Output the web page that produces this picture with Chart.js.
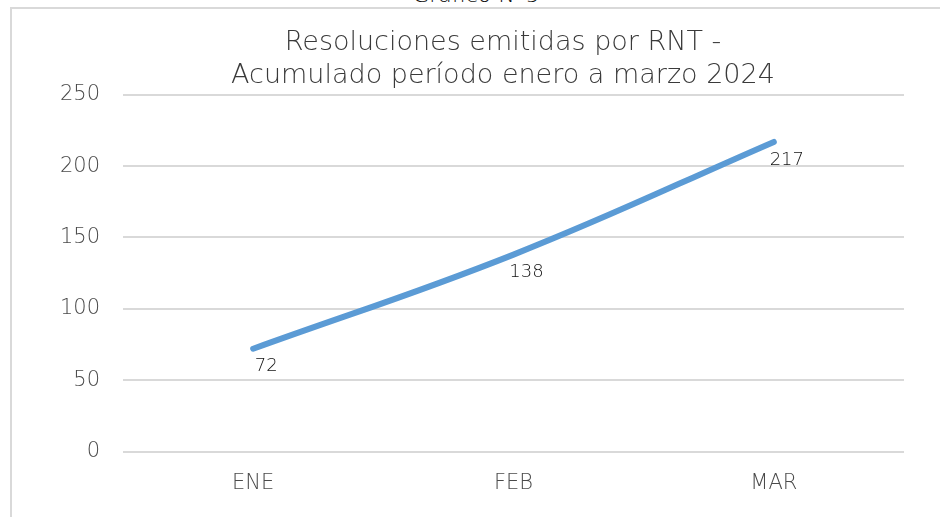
<!DOCTYPE html>
<html>
<head>
<meta charset="utf-8">
<script src="https://cdn.jsdelivr.net/npm/chart.js@4"></script>
<style>
  html, body { margin: 0; padding: 0; background: #fff; width: 940px; height: 517px; overflow: hidden; }
  .caption { position: absolute; left: 0; width: 952px; top: -18px; text-align: center;
             font-family: "DejaVu Sans", sans-serif; font-size: 22px; font-weight: 300; color: #111; }
  .frame { position: absolute; left: 10px; top: 7px; width: 960px; height: 540px;
           border-left: 2px solid #d9d9d9; border-top: 2px solid #d9d9d9; }
  .wrap { position: absolute; left: 20px; top: 0; width: 966px; height: 517px; }
</style>
</head>
<body>
<div class="caption">Gráfico N°5</div>
<div class="frame"></div>
<div class="wrap"><canvas id="linegraph"></canvas></div>
<script>
var months = ['ENE', 'FEB', 'MAR'];
var resolutions = [72, 138, 217];
var yTicks = [0, 50, 100, 150, 200, 250];
var chartTitle = ['Resoluciones emitidas por RNT -', 'Acumulado período enero a marzo 2024'];

var fontFamily = '"DejaVu Sans", sans-serif';

// labels under each point, placed from the line's own elements
var valueLabels = {
    id: 'valueLabels',
    afterDatasetsDraw: function (chart) {
        var ctx = chart.ctx;
        var meta = chart.getDatasetMeta(0);
        ctx.save();
        ctx.font = '300 18px ' + fontFamily;
        ctx.fillStyle = '#111111';
        ctx.textAlign = 'center';
        ctx.textBaseline = 'middle';
        meta.data.forEach(function (pt, i) {
            ctx.fillText(String(resolutions[i]), pt.x + 13, pt.y + 18);
        });
        ctx.restore();
    }
};

// centre the title over the whole canvas, not just up to the padded right side
var titleSpan = {
    id: 'titleSpan',
    afterLayout: function (chart) {
        var t = chart.titleBlock;
        if (t) {
            t.left = 0;
            t.right = chart.width;
            t.width = chart.width;
        }
    }
};

var ctx = document.getElementById('linegraph').getContext('2d');
var resolutionsChart = new Chart(ctx, {
    type: 'line',
    data: {
        labels: months,
        datasets: [{
            label: 'Resoluciones',
            data: resolutions,
            borderColor: '#5B9BD5',
            borderWidth: 6,
            borderCapStyle: 'round',
            tension: 0.4,
            pointRadius: 0,
            fill: false
        }]
    },
    options: {
        responsive: true,
        maintainAspectRatio: false,
        animation: false,
        layout: { padding: { left: 0, right: 82, top: 0, bottom: 0 } },
        plugins: {
            legend: { display: false },
            tooltip: { enabled: false },
            title: {
                display: true,
                text: chartTitle,
                color: '#3a3a3a',
                font: { family: fontFamily, size: 27, weight: '300', lineHeight: 1.2 },
                padding: { top: 27, bottom: 3 }
            }
        },
        scales: {
            x: {
                offset: true,
                grid: { display: false },
                border: { display: false },
                ticks: { color: '#4a4a4a', padding: 11, font: { family: fontFamily, size: 21, weight: '300' } },
                afterFit: function (scale) { scale.height = 65.5; }
            },
            y: {
                min: 0,
                max: 250,
                afterBuildTicks: function (scale) {
                    scale.ticks = yTicks.map(function (v) { return { value: v }; });
                },
                grid: { color: '#d9d9d9', lineWidth: 2, drawTicks: false },
                border: { display: false },
                ticks: { color: '#4a4a4a', padding: 23, font: { family: fontFamily, size: 21, weight: '300' } },
                afterFit: function (scale) { scale.width = 103; }
            }
        }
    },
    plugins: [valueLabels, titleSpan]
});
</script>
</body>
</html>
